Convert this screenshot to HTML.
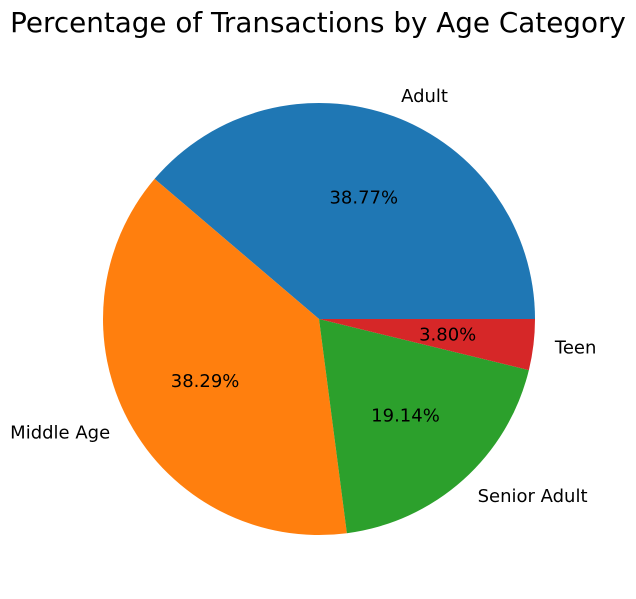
<!DOCTYPE html>
<html><head><meta charset="utf-8"><style>
body{margin:0;background:#fff;}
svg{display:block;font-family:"DejaVu Sans","Liberation Sans",sans-serif;}
</style></head><body>
<svg id="chart" width="636" height="599">
<text x="318" y="32" text-anchor="middle" font-size="27.8" fill="#000">Percentage of Transactions by Age Category</text>
<g id="slices"></g>
</svg>
<script>
const categories = ["Adult", "Middle Age", "Senior Adult", "Teen"];
const values = [38.77, 38.29, 19.14, 3.80];
const colors = ["#1f77b4", "#ff7f0e", "#2ca02c", "#d62728"];
const cx = 319, cy = 319, r = 216;
const g = document.getElementById('slices');
const ns = "http://www.w3.org/2000/svg";
const total = values.reduce((a,b)=>a+b,0);
let a0 = 0;
values.forEach((v,i)=>{
  const a1 = a0 + v/total*2*Math.PI;
  const x0 = cx + r*Math.cos(a0), y0 = cy - r*Math.sin(a0);
  const x1 = cx + r*Math.cos(a1), y1 = cy - r*Math.sin(a1);
  const large = (a1-a0) > Math.PI ? 1 : 0;
  const p = document.createElementNS(ns,'path');
  p.setAttribute('d',`M${cx},${cy} L${x0},${y0} A${r},${r} 0 ${large} 0 ${x1},${y1} Z`);
  p.setAttribute('fill',colors[i]);
  
  
  g.appendChild(p);
  const am = (a0+a1)/2;
  const lx = cx + 1.1*r*Math.cos(am), ly = cy - 1.1*r*Math.sin(am);
  const t = document.createElementNS(ns,'text');
  t.setAttribute('x',lx); t.setAttribute('y',ly+6);
  t.setAttribute('font-size','18');
  t.setAttribute('text-anchor', Math.cos(am) >= 0 ? 'start' : 'end');
  t.textContent = categories[i];
  
  
  g.appendChild(t);
  const px = cx + 0.6*r*Math.cos(am), py = cy - 0.6*r*Math.sin(am);
  const pt = document.createElementNS(ns,'text');
  pt.setAttribute('x',px); pt.setAttribute('y',py+6);
  pt.setAttribute('font-size','18');
  pt.setAttribute('text-anchor','middle');
  pt.textContent = (v/total*100).toFixed(2)+'%';
  
  
  g.appendChild(pt);
  a0 = a1;
});
</script>
</body></html>
